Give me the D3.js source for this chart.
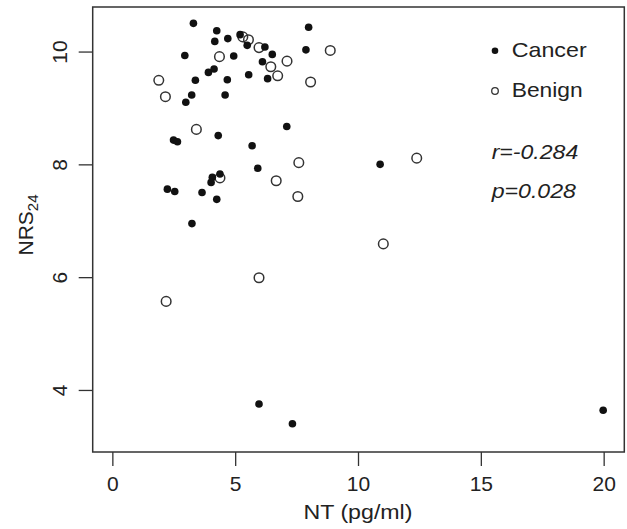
<!DOCTYPE html>
<html>
<head>
<meta charset="utf-8">
<script src="https://cdn.jsdelivr.net/npm/d3@7"></script>
<style>
  body { margin: 0; background: #fff; }
  text { font-family: "Liberation Sans", Arial, sans-serif; fill: #222; }
</style>
</head>
<body>
<div id="chart"></div>
<script>
// Cancer (filled dots)
var cancerNT  = [3.30, 4.25, 4.70, 4.17, 5.20, 5.49, 6.21, 6.51, 2.95, 4.94, 7.99, 7.88, 6.11, 4.14, 3.91, 3.38, 4.68, 5.55, 6.32, 3.23,
                 4.59, 2.99, 7.10, 2.49, 2.65, 4.31, 5.69, 5.92, 4.07, 4.38, 4.02, 2.24, 2.54, 3.65, 4.25, 3.24, 5.97, 7.33, 19.98, 10.90];
var cancerNRS = [10.50, 10.37, 10.23, 10.18, 10.30, 10.11, 10.08, 9.95, 9.93, 9.92, 10.43, 10.03, 9.82, 9.69, 9.63, 9.49, 9.50, 9.59, 9.52, 9.23,
                 9.23, 9.10, 8.67, 8.43, 8.40, 8.51, 8.33, 7.93, 7.77, 7.83, 7.68, 7.56, 7.52, 7.50, 7.38, 6.95, 3.75, 3.40, 3.64, 8.00];
// Benign (open circles)
var benignNT  = [5.31, 5.54, 5.97, 4.36, 7.11, 6.45, 6.73, 8.87, 8.07, 1.89, 2.16, 3.42, 4.38, 7.59, 6.67, 7.55, 2.19, 5.97, 12.39, 11.03];
var benignNRS = [10.26, 10.21, 10.07, 9.91, 9.83, 9.73, 9.57, 10.02, 9.46, 9.49, 9.20, 8.62, 7.76, 8.03, 7.71, 7.43, 5.57, 5.99, 8.11, 6.59];

var xTicks = [0, 5, 10, 15, 20];
var yTicks = [4, 6, 8, 10];
var legendLabels = ["Cancer", "Benign"];
var statLines = ["r=-0.284", "p=0.028"];

var W = 627, H = 529;
var pLeft = 92.7, pRight = 624.3, pTop = 7, pBottom = 452;

var svg = d3.select('#chart').append('svg')
  .attr('width', W)
  .attr('height', H);

var x = d3.scaleLinear().domain([-0.8, 20.84]).range([pLeft, pRight]);
var y = d3.scaleLinear().domain([2.9, 10.79]).range([pBottom, pTop]);

// x axis
var gx = svg.append('g')
  .attr('transform', 'translate(0,' + pBottom + ')')
  .call(d3.axisBottom(x).tickValues(xTicks).tickSize(14).tickPadding(10).tickFormat(d3.format('d')));
gx.select('.domain').remove();
gx.selectAll('line').attr('stroke', '#333').attr('stroke-width', 1.3);
gx.selectAll('text').attr('font-size', 21).attr('fill', '#222');

// y axis, labels turned like R
var gy = svg.append('g')
  .attr('transform', 'translate(' + pLeft + ',0)')
  .call(d3.axisLeft(y).tickValues(yTicks).tickSize(14).tickFormat(d3.format('d')));
gy.select('.domain').remove();
gy.selectAll('line').attr('stroke', '#333').attr('stroke-width', 1.3);
gy.selectAll('text')
  .attr('font-size', 21)
  .attr('fill', '#222')
  .attr('x', 0)
  .attr('y', -25.7)
  .attr('dy', 0)
  .attr('text-anchor', 'middle')
  .attr('transform', 'rotate(-90)');

// box
svg.append('rect')
  .attr('x', pLeft).attr('y', pTop)
  .attr('width', pRight - pLeft).attr('height', pBottom - pTop)
  .attr('fill', 'none')
  .attr('stroke', '#333')
  .attr('stroke-width', 1.5);

// axis titles
svg.append('text')
  .attr('x', x(10))
  .attr('y', 519)
  .attr('text-anchor', 'middle')
  .attr('font-size', 21)
  .attr('textLength', 109)
  .attr('lengthAdjust', 'spacingAndGlyphs')
  .text('NT (pg/ml)');

var yt = svg.append('text')
  .attr('transform', 'translate(33,225) rotate(-90)')
  .attr('text-anchor', 'middle')
  .attr('font-size', 21);
yt.append('tspan').text('NRS');
yt.append('tspan').attr('font-size', 15).attr('dy', 5).text('24');

// points
var cancer = cancerNT.map(function(d, i) { return [d, cancerNRS[i]]; });
var benign = benignNT.map(function(d, i) { return [d, benignNRS[i]]; });

svg.append('g').selectAll('circle')
  .data(benign).enter().append('circle')
  .attr('cx', function(d) { return x(d[0]); })
  .attr('cy', function(d) { return y(d[1]); })
  .attr('r', 4.8)
  .attr('fill', 'none')
  .attr('stroke', '#333')
  .attr('stroke-width', 1.5);

svg.append('g').selectAll('circle')
  .data(cancer).enter().append('circle')
  .attr('cx', function(d) { return x(d[0]); })
  .attr('cy', function(d) { return y(d[1]); })
  .attr('r', 3.8)
  .attr('fill', '#111');

// legend
var leg = svg.append('g');
leg.append('circle').attr('cx', 495).attr('cy', 50.7).attr('r', 3.3).attr('fill', '#111');
leg.append('circle').attr('cx', 495).attr('cy', 91).attr('r', 3.3)
  .attr('fill', 'none').attr('stroke', '#333').attr('stroke-width', 1.3);
var legW = [75, 71];
leg.selectAll('text.lab')
  .data(legendLabels).enter().append('text')
  .attr('class', 'lab')
  .attr('x', 511.7)
  .attr('y', function(d, i) { return 57.3 + i * 39.4; })
  .attr('font-size', 21)
  .attr('textLength', function(d, i) { return legW[i]; })
  .attr('lengthAdjust', 'spacingAndGlyphs')
  .text(function(d) { return d; });

// r and p
var statW = [86.6, 84.3];
svg.selectAll('text.stat')
  .data(statLines).enter().append('text')
  .attr('class', 'stat')
  .attr('x', 491.7)
  .attr('y', function(d, i) { return 159 + i * 39; })
  .attr('font-size', 21)
  .attr('font-style', 'italic')
  .attr('textLength', function(d, i) { return statW[i]; })
  .attr('lengthAdjust', 'spacingAndGlyphs')
  .text(function(d) { return d; });
</script>
</body>
</html>
